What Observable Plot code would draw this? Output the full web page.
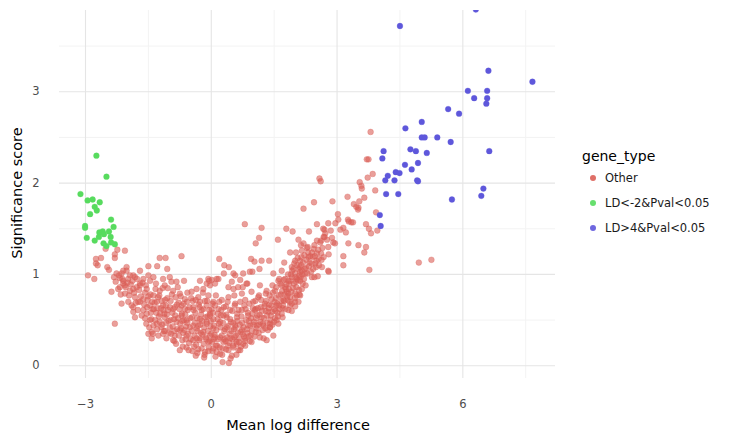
<!DOCTYPE html>
<html>
<head>
<meta charset="utf-8">
<script src="https://cdn.jsdelivr.net/npm/d3@7"></script>
<script src="https://cdn.jsdelivr.net/npm/@observablehq/plot@0.6"></script>
<style>
  html, body { margin: 0; padding: 0; background: #fff; }
  #wrap { position: relative; width: 745px; height: 443px; font-family: "DejaVu Sans", sans-serif; }
  .lbl { position: absolute; white-space: nowrap; color: #000; }
  .leg-item { position: absolute; display: flex; align-items: center; font-size: 11.5px; color: #1a1a1a; }
  .leg-dot { width: 6px; height: 6px; border-radius: 50%; margin-right: 9px; }
</style>
</head>
<body>
<div id="wrap"></div>
<script>
// ---- Data ----
const geneTypes = ["Other", "LD<-2&Pval<0.05", "LD>4&Pval<0.05"];
const typeColors = ["#db5f57", "#57db5e", "#5e57db"];
const xTicks = [-3, 0, 3, 6];
const yTicks = [0, 1, 2, 3];
const xMinorTicks = [-1.5, 1.5, 4.5, 7.5];
const yMinorTicks = [0.5, 1.5, 2.5, 3.5];

// LD>4 & Pval<0.05 (blue)
const highPts = [
  [4.50,3.72],[6.31,3.90],[6.61,3.23],[7.66,3.11],[6.12,3.01],[6.58,3.01],[6.27,2.93],[6.58,2.93],
  [6.56,2.87],[5.65,2.81],[5.91,2.76],[5.02,2.67],[4.63,2.60],[5.02,2.50],[5.09,2.50],[5.39,2.50],
  [5.71,2.45],[6.63,2.35],[4.11,2.35],[4.75,2.37],[4.88,2.35],[4.08,2.27],[5.14,2.33],[4.62,2.20],
  [4.93,2.22],[4.78,2.15],[4.40,2.12],[4.49,2.11],[4.21,2.08],[4.15,2.03],[4.37,2.03],[4.91,2.03],
  [4.93,2.02],[6.49,1.94],[6.44,1.86],[4.17,1.88],[4.46,1.88],[5.74,1.82],[4.02,1.65],[4.04,1.53]
];

// LD<-2 & Pval<0.05 (green)
const lowPts = [
  [-2.74,2.30],[-2.50,2.07],[-3.12,1.88],[-2.95,1.81],[-2.83,1.82],[-2.66,1.79],[-2.78,1.74],[-2.73,1.70],
  [-2.89,1.66],[-2.39,1.60],[-3.01,1.53],[-3.01,1.51],[-2.33,1.52],[-2.67,1.46],[-2.59,1.47],[-2.44,1.47],
  [-2.68,1.41],[-2.56,1.44],[-2.97,1.40],[-2.78,1.37],[-2.40,1.41],[-2.57,1.34],[-2.50,1.31],[-2.39,1.35],
  [-2.30,1.33]
];

// Other (red)
const otherPts = [
  [3.80,2.56],[3.71,2.26],[3.75,2.26],[2.58,2.05],[2.61,2.02],[3.54,2.01],[3.58,1.97],[3.59,1.94],
  [3.73,2.06],[3.85,2.10],[3.91,1.92],[3.65,1.84],[3.25,1.85],[2.89,1.80],[2.45,1.79],[2.20,1.72],
  [3.40,1.77],[3.46,1.74],[3.51,1.73],[3.50,1.71],[3.53,1.80],[3.02,1.66],[3.26,1.60],[3.28,1.58],
  [3.34,1.57],[3.38,1.57],[2.52,1.55],[2.33,1.47],[2.67,1.50],[2.68,1.41],[2.96,1.56],[3.08,1.49],
  [3.15,1.51],[3.69,1.55],[3.76,1.50],[3.81,1.45],[3.96,1.48],[3.93,1.68],[3.27,1.34],[3.51,1.32],
  [3.69,1.30],[3.65,1.24],[3.15,1.20],[3.15,1.10],[3.77,1.05],[4.95,1.13],[5.25,1.16],
  [2.00,0.65],[1.40,0.46],[2.80,1.03],[2.46,0.97],[2.54,0.98],[2.10,0.78],[2.04,0.77],
  [1.79,1.50],[1.94,1.47],[1.59,1.38],[1.74,1.13],[1.88,1.24],[2.02,1.24],
  [2.70,1.49],[2.79,1.56],[3.03,1.60],[3.21,1.46],[2.08,1.38],[2.20,1.34],[2.14,1.32],[2.52,1.37],
  [2.62,1.37],[2.70,1.41],[2.76,1.38],[2.88,1.40],[2.91,1.35],[2.79,1.30],[2.95,1.34],
  [2.16,1.26],[2.28,1.29],[2.40,1.24],[2.44,1.28],[2.52,1.23],[2.62,1.23],[2.56,1.17],[2.68,1.19],
  [2.64,1.08],[2.79,1.04],[2.48,1.12],[2.32,1.19],[2.12,1.15],[2.00,1.15],[1.92,1.08],[1.96,1.06],
  [2.08,1.06],[2.12,1.03],[2.24,1.01],[2.40,0.97],[1.92,0.97],[1.84,0.93],[2.12,0.93],[1.76,0.86],
  [1.80,0.81],[1.88,0.75],[2.12,0.77],[1.92,0.68],
  [0.80,1.55],[1.20,1.51],[1.14,1.40],[1.06,1.34],[0.19,1.17],[0.95,1.17],[1.03,1.14],[1.20,1.15],
  [1.38,1.15],[0.31,1.10],[0.42,1.08],[0.98,1.03],[1.15,1.06],[0.53,1.01],[0.30,1.01],[0.13,0.95],
  [-0.05,0.93],[-0.11,0.90],[0.01,0.94],[0.49,0.92],[0.69,0.94],[0.86,0.90],[0.75,0.86],[0.53,0.84],
  [-2.52,1.28],[-2.30,1.22],[-2.30,1.18],[-2.06,1.26],[-2.75,1.17],[-2.63,1.18],[-2.75,1.12],[-2.71,1.10],
  [-2.48,1.08],[-2.44,1.05],[-2.94,0.99],[-2.79,0.95],[-2.38,0.81],[-2.30,0.46],[-1.23,1.18],[-1.09,1.18],
  [-0.71,1.20],[-1.29,1.09],[-1.05,1.06],[-1.50,1.09],[-2.24,1.27],
  [-1.70,1.04],[-2.02,1.08],[-2.10,1.04],[-2.26,1.01],[-2.32,0.97],[-2.18,0.96],[-1.94,0.99],[-1.82,0.97],
  [-1.62,0.95],[-1.50,0.99],[-1.38,0.97],[-1.15,0.95],[-0.99,0.97],[-0.95,0.92],[-0.83,0.92],[-0.65,0.93],
  [-2.10,0.90],[-2.22,0.84],[-2.06,0.79],[-1.86,0.84],[-1.70,0.88],[-1.54,0.84],[-1.38,0.77],[-1.23,0.82],
  [-1.11,0.88],[-0.91,0.82],[-0.75,0.79],[-0.47,0.81],[-0.35,0.84],[-0.19,0.84],[-0.03,0.88],
  [-2.14,0.68],[-1.98,0.70],[-1.86,0.64],[-1.70,0.70],[-1.62,0.61],[-1.46,0.66],[-1.30,0.70],[-1.15,0.66],
  [-1.03,0.61],[-0.87,0.64],[-0.71,0.66],[-0.63,0.62],[-0.43,0.64],[-0.27,0.70],[-0.11,0.66],[0.01,0.62],
  [-1.86,0.59],[-1.82,0.53],[-1.54,0.57],[-1.46,0.50],[-1.38,0.44],[-1.23,0.48],[-1.11,0.53],[-0.99,0.42],
  [-0.83,0.48],[-0.71,0.55],[-0.59,0.50],[-0.43,0.44],[-0.27,0.51],[-0.11,0.48],[-0.03,0.55],
  [-1.42,0.37],[-1.15,0.35],[-1.07,0.30],[-0.87,0.33],[-0.75,0.39],[-0.59,0.33],[-0.35,0.30],[-0.19,0.37],
  [-0.03,0.33],[-1.50,0.35],[-1.42,0.30],
  [0.57,0.99],[0.76,1.01],[0.92,1.03],[1.48,1.01],[1.68,1.04],[2.00,1.01],[2.16,1.04],[1.76,0.95],
  [1.60,0.93],[2.04,0.95],
  [-0.27,0.93],[-0.07,0.95],[0.09,0.90],[0.17,0.95],[0.41,0.86],[0.64,0.86],[0.84,0.90],[0.73,0.79],
  [0.96,0.81],[1.16,0.88],[1.32,0.82],[1.52,0.82],[1.68,0.88],[1.84,0.79],[2.00,0.79],[2.16,0.84],
  [-0.31,0.75],[-0.07,0.77],[0.05,0.70],[0.25,0.72],[0.41,0.75],[0.57,0.68],[0.81,0.72],[1.00,0.70],
  [1.12,0.75],[1.28,0.68],[1.44,0.73],[1.56,0.66],[1.72,0.72],[1.88,0.66],[2.00,0.70],
  [-0.23,0.61],[-0.03,0.57],[0.17,0.62],[0.29,0.55],[0.45,0.61],[0.61,0.53],[0.73,0.61],[0.88,0.55],
  [1.04,0.61],[1.20,0.53],[1.36,0.59],[1.52,0.52],[1.68,0.57],[1.84,0.61],
  [-0.31,0.44],[-0.11,0.46],[0.05,0.41],[0.21,0.48],[0.37,0.42],[0.57,0.44],[0.73,0.39],[0.88,0.44],
  [1.08,0.41],[1.24,0.44],[1.40,0.42],[1.60,0.46],
  [-0.27,0.30],[-0.07,0.26],[0.09,0.31],[0.29,0.26],[0.45,0.30],[0.61,0.24],[0.81,0.30],[0.96,0.26],
  [1.16,0.31],[1.32,0.28],[1.48,0.33],
  [-0.15,0.15],[0.05,0.19],[0.21,0.13],[0.41,0.17],[0.49,0.11],[0.65,0.17],[0.81,0.22],[0.27,0.04],
  [0.42,0.03],[-0.37,0.11],[-0.17,0.09],[-0.59,0.20],[-0.75,0.17],[-0.91,0.28],[-0.43,0.28],[0.53,0.20],
  [0.69,0.17],[0.13,0.15],
  [-2.14,1.01],[-2.02,1.04],[-2.10,0.93],[-1.98,0.95],[-1.86,0.99],[-2.18,0.86],[-2.06,0.88],[-1.94,0.82],
  [-1.78,0.86],[-1.70,0.90],[-1.82,0.75],[-1.74,0.70],[-1.62,0.73],
  [-1.58,0.80],[-1.52,0.72],[-1.45,0.78],[-1.40,0.62],[-1.35,0.69],[-1.31,0.58],[-1.27,0.75],[-1.20,0.63],
  [-1.18,0.71],[-1.12,0.57],[-1.08,0.66],[-1.05,0.74],[-1.02,0.49],[-1.25,0.54],[-1.43,0.51],[-1.33,0.84],
  [-1.17,0.45],[-1.10,0.38],[-1.29,0.40],[-1.55,0.46],
  [-0.97,0.71],[-0.93,0.58],[-0.89,0.51],[-0.85,0.75],[-0.81,0.40],[-0.78,0.69],[-0.74,0.46],[-0.70,0.57],
  [-0.67,0.36],[-0.63,0.73],[-0.60,0.43],[-0.56,0.61],[-0.53,0.25],[-0.50,0.52],[-0.47,0.38],[-0.44,0.71],
  [-0.41,0.21],[-0.96,0.35],[-0.88,0.27],[-0.69,0.28],[-0.57,0.80],[-0.80,0.86],[-0.65,0.50],
  [-0.38,0.58],[-0.35,0.41],[-0.31,0.18],[-0.28,0.64],[-0.25,0.36],[-0.22,0.49],[-0.18,0.24],[-0.15,0.71],
  [-0.12,0.29],[-0.09,0.54],[-0.06,0.20],[-0.02,0.43],[0.02,0.26],[0.05,0.51],[0.08,0.34],[0.11,0.77],
  [0.14,0.22],[0.18,0.46],[0.21,0.31],[0.24,0.61],[0.27,0.19],[0.03,0.68],[-0.20,0.80],[0.16,0.57],
  [-0.33,0.14],[0.10,0.10],
  [0.31,0.38],[0.34,0.27],[0.37,0.53],[0.40,0.22],[0.44,0.35],[0.47,0.48],[0.51,0.29],[0.54,0.40],
  [0.58,0.33],[0.62,0.57],[0.66,0.26],[0.70,0.37],[0.74,0.47],[0.78,0.32],[0.82,0.62],[0.86,0.36],
  [0.90,0.49],[0.94,0.33],[0.98,0.57],[0.35,0.65],[0.55,0.77],[0.69,0.70],[0.60,0.12],[0.76,0.24],
  [0.92,0.27],
  [1.02,0.48],[1.06,0.37],[1.10,0.55],[1.14,0.45],[1.18,0.64],[1.22,0.39],[1.26,0.52],[1.30,0.60],
  [1.34,0.47],[1.38,0.67],[1.42,0.55],[1.46,0.45],[1.50,0.62],[1.54,0.74],[1.58,0.58],[1.62,0.66],
  [1.66,0.78],[1.70,0.63],[1.74,0.71],[1.78,0.84],[1.14,0.77],[1.30,0.79],[1.46,0.88],[1.62,0.95],
  [1.06,0.62],[1.25,0.30],[1.40,0.42],[1.56,0.50],[1.70,0.53],
  [1.82,0.72],[1.86,0.90],[1.90,1.00],[1.95,0.85],[1.98,1.12],[2.02,0.92],[2.06,1.18],[2.10,0.99],
  [2.14,1.10],[2.18,0.90],[2.22,1.21],[2.26,1.07],[2.30,1.30],[2.34,1.13],[2.38,1.03],[2.42,1.19],
  [2.46,1.32],[2.50,1.08],[2.55,1.27],[2.60,1.35],[2.65,1.29],[2.72,1.45],[2.80,1.22],[2.85,1.48],
  [1.92,0.60],[2.08,0.70],[2.25,0.88],
  [-2.28,0.92],[-2.20,0.99],[-2.16,0.78],[-2.12,0.95],[-2.04,0.86],[-2.00,0.91],[-1.96,0.77],[-1.92,0.89],
  [-1.90,0.66],[-1.88,0.93],[-1.84,0.80],[-1.80,0.69],[-1.77,0.95],[-1.75,0.61],[-1.72,0.83],[-1.68,0.76],
  [-1.66,0.55],[-1.64,0.91],[-1.60,0.67],[-1.58,0.52],[-1.56,0.88],[-1.53,0.64],[-1.50,0.76],[-1.48,0.42],
  [-1.46,0.93],[-1.44,0.58],[-1.41,0.70],[-1.39,0.35],[-1.37,0.62],[-1.34,0.50],[-1.32,0.90],[-1.30,0.46],
  [-1.28,0.63],[-1.26,0.33],[-1.24,0.77],[-1.22,0.57],[-1.19,0.42],[-1.16,0.85],[-1.14,0.61],[-1.13,0.38],
  [-1.10,0.72],[-1.08,0.47],[-1.06,0.56],[-1.04,0.85],[-1.01,0.36],[-0.99,0.64],[-0.97,0.50],[-0.94,0.78],
  [-0.92,0.43],[-0.90,0.62],[-0.88,0.38],[-0.86,0.55],[-0.84,0.24],[-0.82,0.67],[-0.79,0.52],[-0.77,0.33],
  [-0.76,0.62],[-0.73,0.76],[-0.72,0.41],[-0.69,0.49],[-0.68,0.21],[-0.66,0.68],[-0.64,0.39],[-0.62,0.56],
  [-0.61,0.29],[-0.58,0.70],[-0.57,0.47],[-0.55,0.35],[-0.54,0.17],[-0.52,0.64],[-0.51,0.42],[-0.49,0.29],
  [-0.48,0.74],[-0.46,0.53],[-0.45,0.16],[-0.42,0.61],[-0.40,0.33],[-0.39,0.47],[-0.37,0.72],[-0.36,0.23],
  [-0.34,0.52],[-0.33,0.38],[-0.30,0.67],[-0.29,0.28],[-0.26,0.45],[-0.24,0.56],[-0.23,0.19],[-0.21,0.34],
  [-0.19,0.62],[-0.17,0.42],[-0.16,0.12],[-0.14,0.53],[-0.13,0.31],[-0.10,0.71],[-0.08,0.38],[-0.07,0.16],
  [-0.05,0.61],[-0.04,0.27],[-0.01,0.49],[0.00,0.35],[0.03,0.16],[0.04,0.58],[0.06,0.29],[0.07,0.44],
  [0.09,0.66],[0.11,0.22],[0.12,0.39],[0.15,0.51],[0.16,0.29],[0.19,0.70],[0.20,0.20],[0.22,0.42],
  [0.23,0.55],[0.25,0.33],[0.26,0.12],[0.28,0.47],[0.30,0.64],[0.31,0.29],[0.33,0.40],[0.35,0.18],
  [0.36,0.56],[0.38,0.31],[0.39,0.70],[0.41,0.44],[0.43,0.25],[0.45,0.51],[0.46,0.08],[0.48,0.38],
  [0.50,0.60],[0.52,0.22],[0.53,0.47],[0.55,0.31],[0.56,0.66],[0.58,0.42],[0.60,0.26],[0.62,0.49],
  [0.63,0.36],[0.65,0.61],[0.67,0.30],[0.68,0.45],[0.71,0.21],[0.72,0.54],[0.75,0.35],[0.77,0.42],
  [0.79,0.66],[0.80,0.27],[0.83,0.50],[0.85,0.40],[0.87,0.58],[0.89,0.32],[0.91,0.68],[0.93,0.44],
  [0.95,0.52],[0.97,0.38],[0.99,0.63],[1.01,0.45],[1.03,0.32],[1.05,0.71],[1.07,0.52],[1.09,0.44],
  [1.11,0.63],[1.13,0.36],[1.15,0.56],[1.17,0.48],[1.19,0.72],[1.21,0.60],[1.23,0.46],[1.27,0.65],
  [1.29,0.41],[1.31,0.71],[1.33,0.55],[1.35,0.39],[1.37,0.63],[1.39,0.77],[1.41,0.50],[1.43,0.66],
  [1.45,0.59],[1.47,0.80],[1.49,0.48],[1.51,0.70],[1.53,0.60],[1.55,0.86],[1.57,0.68],[1.59,0.54],
  [1.61,0.77],[1.63,0.62],[1.65,0.90],[1.67,0.71],[1.69,0.82],[1.71,0.66],[1.73,0.94],[1.75,0.78],
  [1.77,0.62],[1.79,0.89],[1.81,0.76],[1.83,1.00],[1.85,0.84],[1.87,0.70],[1.89,0.93],[1.91,0.81],
  [1.93,1.04],[1.97,0.90],[1.99,0.74],[2.01,0.97],[2.03,0.86],[2.05,1.10],[2.07,0.94],[2.09,0.83],
  [2.11,1.08],[2.13,0.97],[2.15,1.19],[2.17,1.00],[2.19,1.13],[2.21,0.95],[2.23,1.06],[2.27,1.16],
  [2.29,1.01],[2.31,1.24],[2.33,1.09],[2.36,1.20],[2.39,1.12],[2.43,1.06],[2.47,1.20],[2.51,1.15],
  [2.57,1.10],[2.63,1.16]
];

// ---- Build table ----
const rows = [
  ...otherPts.map(([x, y]) => ({x, y, type: geneTypes[0]})),
  ...lowPts.map(([x, y]) => ({x, y, type: geneTypes[1]})),
  ...highPts.map(([x, y]) => ({x, y, type: geneTypes[2]}))
];

const chart = Plot.plot({
  width: 745,
  height: 443,
  marginLeft: 59,
  marginRight: 190,
  marginTop: 10,
  marginBottom: 65,
  style: {fontFamily: "DejaVu Sans, sans-serif", background: "#fff"},
  x: {domain: [-3.62, 8.21]},
  y: {domain: [-0.14, 3.89]},
  color: {domain: geneTypes, range: typeColors},
  marks: [
    Plot.gridX(xMinorTicks, {stroke: "#f3f3f3", strokeOpacity: 1, strokeWidth: 1}),
    Plot.gridY(yMinorTicks, {stroke: "#f3f3f3", strokeOpacity: 1, strokeWidth: 1}),
    Plot.gridX(xTicks, {stroke: "#e5e5e5", strokeOpacity: 1, strokeWidth: 1.1}),
    Plot.gridY(yTicks, {stroke: "#e5e5e5", strokeOpacity: 1, strokeWidth: 1.1}),
    Plot.axisX(xTicks, {tickSize: 0, tickPadding: 21, fontSize: 11.5, fill: "#4d4d4d", label: null, tickFormat: "d"}),
    Plot.axisY(yTicks, {tickSize: 0, tickPadding: 20, fontSize: 11.5, fill: "#4d4d4d", label: null, tickFormat: "d"}),
    Plot.dot(rows.filter(d => d.type === geneTypes[0]), {
      x: "x", y: "y", fill: "type", stroke: "type", r: 2.9,
      fillOpacity: 0.6, strokeOpacity: 0.5, strokeWidth: 0.6, clip: true
    }),
    Plot.dot(rows.filter(d => d.type !== geneTypes[0]), {
      x: "x", y: "y", fill: "type", stroke: "type", r: 2.9,
      fillOpacity: 1, strokeOpacity: 0.6, strokeWidth: 0.5, clip: true
    })
  ]
});

const wrap = document.getElementById("wrap");
wrap.appendChild(chart);

// Axis titles
const xt = document.createElement("div");
xt.className = "lbl";
xt.textContent = "Mean log difference";
xt.style.cssText = "left:298px;top:425px;transform:translate(-50%,-50%);font-size:14.5px;";
wrap.appendChild(xt);

const yt = document.createElement("div");
yt.className = "lbl";
yt.textContent = "Significance score";
yt.style.cssText = "left:17px;top:193px;transform:translate(-50%,-50%) rotate(-90deg);font-size:14.5px;";
wrap.appendChild(yt);

// Legend
const color = chart.scale("color");
const lt = document.createElement("div");
lt.className = "lbl";
lt.textContent = "gene_type";
lt.style.cssText = "left:582px;top:156px;transform:translateY(-50%);font-size:14px;";
wrap.appendChild(lt);
const legY = [178, 203, 228];
geneTypes.forEach((t, i) => {
  const item = document.createElement("div");
  item.className = "leg-item";
  item.style.left = "590px";
  item.style.top = legY[i] + "px";
  item.style.transform = "translateY(-50%)";
  const dot = document.createElement("span");
  dot.className = "leg-dot";
  dot.style.background = color.range[i];
  dot.style.opacity = "0.9";
  const txt = document.createElement("span");
  txt.textContent = t;
  item.appendChild(dot);
  item.appendChild(txt);
  wrap.appendChild(item);
});
</script>
</body>
</html>
